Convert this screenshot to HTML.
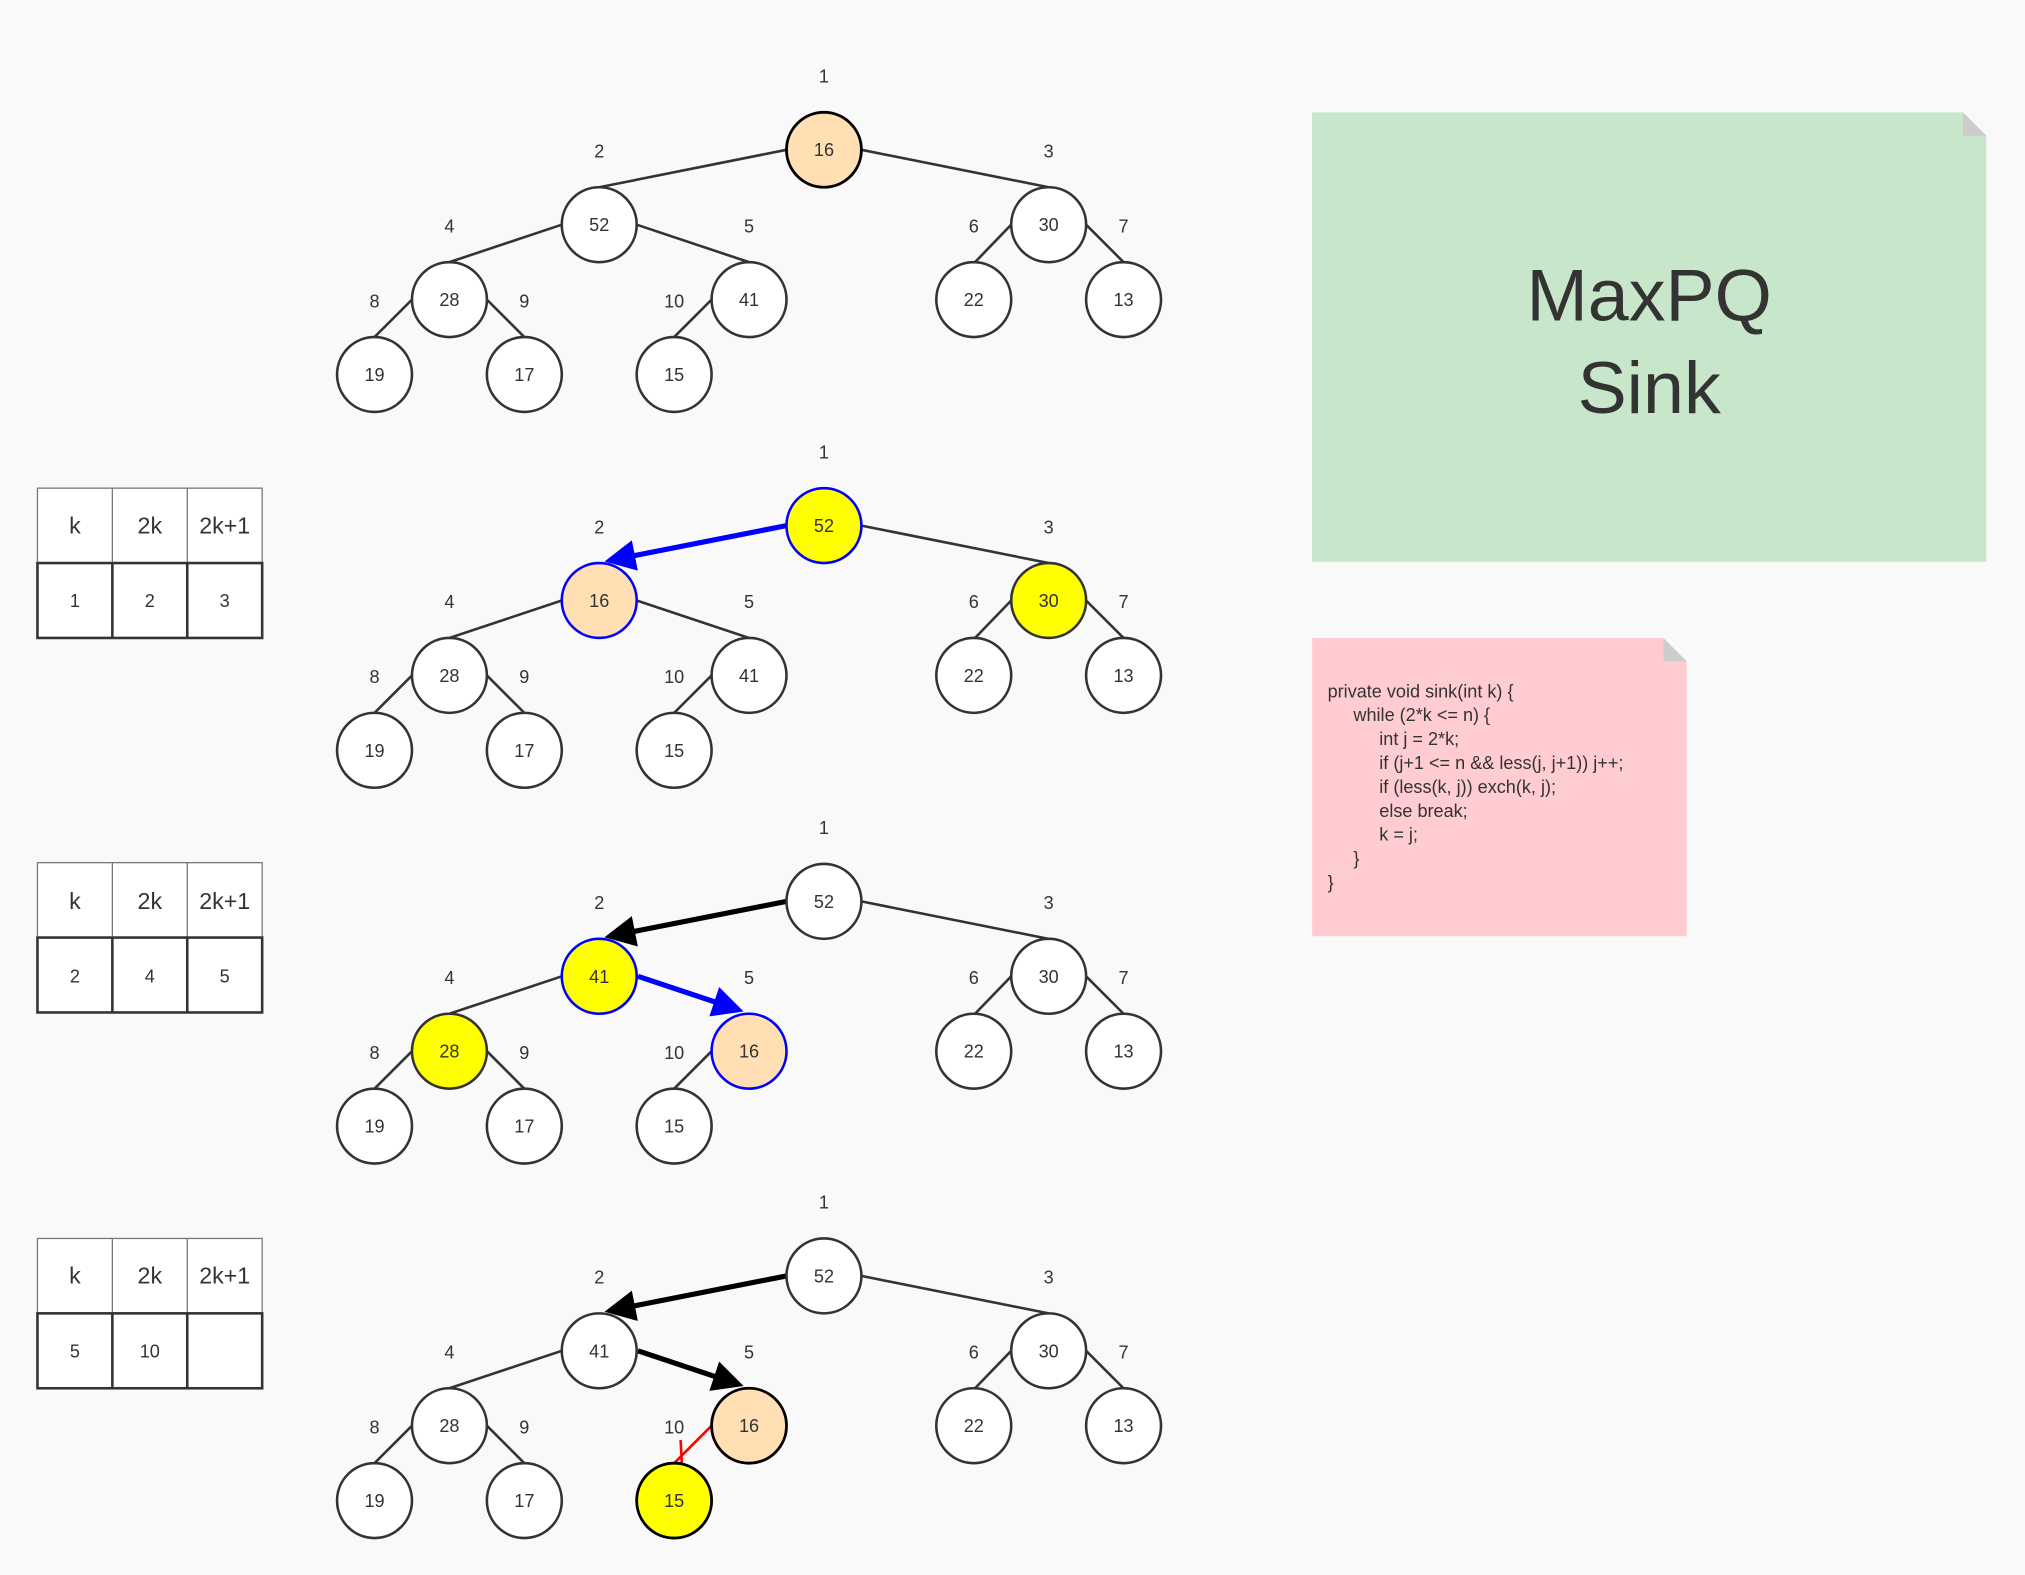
<!DOCTYPE html>
<html><head><meta charset="utf-8"><style>
html,body{margin:0;padding:0;background:#f9f9f9;}
svg{display:block;}
text{font-family:"Liberation Sans",sans-serif;fill:#333;}
.l{font-size:14px;text-anchor:middle;}
.n{font-size:14px;text-anchor:middle;}
.e{stroke:#333;stroke-width:2;fill:none;}
.c{fill:#fff;stroke:#333;stroke-width:2;}
.th{font-size:18px;text-anchor:middle;}
.td{font-size:14px;text-anchor:middle;}
</style></head><body>
<svg width="2025" height="1575" viewBox="0 0 1568 1219.6" preserveAspectRatio="none" xmlns="http://www.w3.org/2000/svg">
<rect x="0" y="0" width="1568" height="1220" fill="#f9f9f9"/>

<!-- Green note -->
<path d="M1016 87 H1520 L1538 105 V435 H1016 Z" fill="#c8e6c9"/>
<path d="M1520 87 L1538 105 H1520 Z" fill="#cccccc"/>
<text x="1277" y="248" style="font-size:57px;text-anchor:middle">MaxPQ</text>
<text x="1277" y="320" style="font-size:57px;text-anchor:middle">Sink</text>

<!-- Pink note -->
<path d="M1016 494 H1288 L1306 512 V725 H1016 Z" fill="#ffccd1"/>
<path d="M1288 494 L1306 512 H1288 Z" fill="#cccccc"/>
<g style="font-size:14px">
<text x="1028" y="540">private void sink(int k) {</text>
<text x="1048" y="558.5">while (2*k &lt;= n) {</text>
<text x="1068" y="577">int j = 2*k;</text>
<text x="1068" y="595.5">if (j+1 &lt;= n &amp;&amp; less(j, j+1)) j++;</text>
<text x="1068" y="614">if (less(k, j)) exch(k, j);</text>
<text x="1068" y="632.5">else break;</text>
<text x="1068" y="651">k = j;</text>
<text x="1048" y="669.5">}</text>
<text x="1028" y="688">}</text>
</g>

<defs>
<marker id="ab" markerWidth="6" markerHeight="6" refX="5" refY="3" orient="auto" markerUnits="strokeWidth"><path d="M0 0 L6 3 L0 6 Z" fill="#0000ff"/></marker>
<marker id="ak" markerWidth="6" markerHeight="6" refX="5" refY="3" orient="auto" markerUnits="strokeWidth"><path d="M0 0 L6 3 L0 6 Z" fill="#000"/></marker>
</defs>

<!-- Tables -->
<g>
<rect x="29" y="378" width="174" height="58" fill="#fff" stroke="#777" stroke-width="1"/>
<line x1="87" y1="378" x2="87" y2="436" stroke="#777"/><line x1="145" y1="378" x2="145" y2="436" stroke="#777"/>
<rect x="29" y="436" width="174" height="58" fill="#fff" stroke="#333" stroke-width="2"/>
<line x1="87" y1="436" x2="87" y2="494" stroke="#333" stroke-width="2"/><line x1="145" y1="436" x2="145" y2="494" stroke="#333" stroke-width="2"/>
<text class="th" x="58" y="413">k</text><text class="th" x="116" y="413">2k</text><text class="th" x="174" y="413">2k+1</text>
<text class="td" x="58" y="470">1</text><text class="td" x="116" y="470">2</text><text class="td" x="174" y="470">3</text>
</g>
<g>
<rect x="29" y="668" width="174" height="58" fill="#fff" stroke="#777" stroke-width="1"/>
<line x1="87" y1="668" x2="87" y2="726" stroke="#777"/><line x1="145" y1="668" x2="145" y2="726" stroke="#777"/>
<rect x="29" y="726" width="174" height="58" fill="#fff" stroke="#333" stroke-width="2"/>
<line x1="87" y1="726" x2="87" y2="784" stroke="#333" stroke-width="2"/><line x1="145" y1="726" x2="145" y2="784" stroke="#333" stroke-width="2"/>
<text class="th" x="58" y="704">k</text><text class="th" x="116" y="704">2k</text><text class="th" x="174" y="704">2k+1</text>
<text class="td" x="58" y="761">2</text><text class="td" x="116" y="761">4</text><text class="td" x="174" y="761">5</text>
</g>
<g>
<rect x="29" y="959" width="174" height="58" fill="#fff" stroke="#777" stroke-width="1"/>
<line x1="87" y1="959" x2="87" y2="1017" stroke="#777"/><line x1="145" y1="959" x2="145" y2="1017" stroke="#777"/>
<rect x="29" y="1017" width="174" height="58" fill="#fff" stroke="#333" stroke-width="2"/>
<line x1="87" y1="1017" x2="87" y2="1075" stroke="#333" stroke-width="2"/><line x1="145" y1="1017" x2="145" y2="1075" stroke="#333" stroke-width="2"/>
<text class="th" x="58" y="994">k</text><text class="th" x="116" y="994">2k</text><text class="th" x="174" y="994">2k+1</text>
<text class="td" x="58" y="1051">5</text><text class="td" x="116" y="1051">10</text>
</g>

<!-- Tree 1 (dy=0) -->
<g>
<path class="e" d="M609 116 L464 145 M667 116 L812 145 M435 174 L348 203 M493 174 L580 203 M783 174 L755 203 M841 174 L870 203 M319 232 L290 261 M377 232 L406 261 M551 232 L522 261"/>
<text class="l" x="638" y="64">1</text><text class="l" x="464" y="122">2</text><text class="l" x="812" y="122">3</text>
<text class="l" x="348" y="180">4</text><text class="l" x="580" y="180">5</text><text class="l" x="754" y="180">6</text><text class="l" x="870" y="180">7</text>
<text class="l" x="290" y="238">8</text><text class="l" x="406" y="238">9</text><text class="l" x="522" y="238">10</text>
<circle cx="638" cy="116" r="29" fill="#ffdfb3" stroke="#000" stroke-width="2.2"/>
<circle class="c" cx="464" cy="174" r="29"/><circle class="c" cx="812" cy="174" r="29"/>
<circle class="c" cx="348" cy="232" r="29"/><circle class="c" cx="580" cy="232" r="29"/><circle class="c" cx="754" cy="232" r="29"/><circle class="c" cx="870" cy="232" r="29"/>
<circle class="c" cx="290" cy="290" r="29"/><circle class="c" cx="406" cy="290" r="29"/><circle class="c" cx="522" cy="290" r="29"/>
<text class="n" x="638" y="121">16</text><text class="n" x="464" y="179">52</text><text class="n" x="812" y="179">30</text>
<text class="n" x="348" y="237">28</text><text class="n" x="580" y="237">41</text><text class="n" x="754" y="237">22</text><text class="n" x="870" y="237">13</text>
<text class="n" x="290" y="295">19</text><text class="n" x="406" y="295">17</text><text class="n" x="522" y="295">15</text>
</g>

<!-- Tree 2 (dy=291) -->
<g transform="translate(0,291)">
<path class="e" d="M667 116 L812 145 M435 174 L348 203 M493 174 L580 203 M783 174 L755 203 M841 174 L870 203 M319 232 L290 261 M377 232 L406 261 M551 232 L522 261"/>
<line x1="609" y1="116" x2="472" y2="143" stroke="#0000ff" stroke-width="4" marker-end="url(#ab)"/>
<text class="l" x="638" y="64">1</text><text class="l" x="464" y="122">2</text><text class="l" x="812" y="122">3</text>
<text class="l" x="348" y="180">4</text><text class="l" x="580" y="180">5</text><text class="l" x="754" y="180">6</text><text class="l" x="870" y="180">7</text>
<text class="l" x="290" y="238">8</text><text class="l" x="406" y="238">9</text><text class="l" x="522" y="238">10</text>
<circle cx="638" cy="116" r="29" fill="#ffff00" stroke="#0000ff" stroke-width="2"/>
<circle cx="464" cy="174" r="29" fill="#ffdfb3" stroke="#0000ff" stroke-width="2"/>
<circle cx="812" cy="174" r="29" fill="#ffff00" stroke="#333" stroke-width="2"/>
<circle class="c" cx="348" cy="232" r="29"/><circle class="c" cx="580" cy="232" r="29"/><circle class="c" cx="754" cy="232" r="29"/><circle class="c" cx="870" cy="232" r="29"/>
<circle class="c" cx="290" cy="290" r="29"/><circle class="c" cx="406" cy="290" r="29"/><circle class="c" cx="522" cy="290" r="29"/>
<text class="n" x="638" y="121">52</text><text class="n" x="464" y="179">16</text><text class="n" x="812" y="179">30</text>
<text class="n" x="348" y="237">28</text><text class="n" x="580" y="237">41</text><text class="n" x="754" y="237">22</text><text class="n" x="870" y="237">13</text>
<text class="n" x="290" y="295">19</text><text class="n" x="406" y="295">17</text><text class="n" x="522" y="295">15</text>
</g>

<!-- Tree 3 (dy=582) -->
<g transform="translate(0,582)">
<path class="e" d="M667 116 L812 145 M435 174 L348 203 M783 174 L755 203 M841 174 L870 203 M319 232 L290 261 M377 232 L406 261 M551 232 L522 261"/>
<line x1="609" y1="116" x2="472" y2="143" stroke="#000" stroke-width="4" marker-end="url(#ak)"/>
<line x1="494" y1="174" x2="572" y2="200" stroke="#0000ff" stroke-width="4" marker-end="url(#ab)"/>
<text class="l" x="638" y="64">1</text><text class="l" x="464" y="122">2</text><text class="l" x="812" y="122">3</text>
<text class="l" x="348" y="180">4</text><text class="l" x="580" y="180">5</text><text class="l" x="754" y="180">6</text><text class="l" x="870" y="180">7</text>
<text class="l" x="290" y="238">8</text><text class="l" x="406" y="238">9</text><text class="l" x="522" y="238">10</text>
<circle class="c" cx="638" cy="116" r="29"/>
<circle cx="464" cy="174" r="29" fill="#ffff00" stroke="#0000ff" stroke-width="2"/>
<circle class="c" cx="812" cy="174" r="29"/>
<circle cx="348" cy="232" r="29" fill="#ffff00" stroke="#333" stroke-width="2"/>
<circle cx="580" cy="232" r="29" fill="#ffdfb3" stroke="#0000ff" stroke-width="2"/>
<circle class="c" cx="754" cy="232" r="29"/><circle class="c" cx="870" cy="232" r="29"/>
<circle class="c" cx="290" cy="290" r="29"/><circle class="c" cx="406" cy="290" r="29"/><circle class="c" cx="522" cy="290" r="29"/>
<text class="n" x="638" y="121">52</text><text class="n" x="464" y="179">41</text><text class="n" x="812" y="179">30</text>
<text class="n" x="348" y="237">28</text><text class="n" x="580" y="237">16</text><text class="n" x="754" y="237">22</text><text class="n" x="870" y="237">13</text>
<text class="n" x="290" y="295">19</text><text class="n" x="406" y="295">17</text><text class="n" x="522" y="295">15</text>
</g>

<!-- Tree 4 (dy=872) -->
<g transform="translate(0,872)">
<path class="e" d="M667 116 L812 145 M435 174 L348 203 M783 174 L755 203 M841 174 L870 203 M319 232 L290 261 M377 232 L406 261"/>
<line x1="609" y1="116" x2="472" y2="143" stroke="#000" stroke-width="4" marker-end="url(#ak)"/>
<line x1="494" y1="174" x2="572" y2="200" stroke="#000" stroke-width="4" marker-end="url(#ak)"/>
<path d="M551 232 L522 261 M527 243 L528 262" stroke="#ff0000" stroke-width="2" fill="none"/>
<text class="l" x="638" y="64">1</text><text class="l" x="464" y="122">2</text><text class="l" x="812" y="122">3</text>
<text class="l" x="348" y="180">4</text><text class="l" x="580" y="180">5</text><text class="l" x="754" y="180">6</text><text class="l" x="870" y="180">7</text>
<text class="l" x="290" y="238">8</text><text class="l" x="406" y="238">9</text><text class="l" x="522" y="238">10</text>
<circle class="c" cx="638" cy="116" r="29"/>
<circle class="c" cx="464" cy="174" r="29"/>
<circle class="c" cx="812" cy="174" r="29"/>
<circle class="c" cx="348" cy="232" r="29"/>
<circle cx="580" cy="232" r="29" fill="#ffdfb3" stroke="#000" stroke-width="2.2"/>
<circle class="c" cx="754" cy="232" r="29"/><circle class="c" cx="870" cy="232" r="29"/>
<circle class="c" cx="290" cy="290" r="29"/><circle class="c" cx="406" cy="290" r="29"/>
<circle cx="522" cy="290" r="29" fill="#ffff00" stroke="#000" stroke-width="2.2"/>
<text class="n" x="638" y="121">52</text><text class="n" x="464" y="179">41</text><text class="n" x="812" y="179">30</text>
<text class="n" x="348" y="237">28</text><text class="n" x="580" y="237">16</text><text class="n" x="754" y="237">22</text><text class="n" x="870" y="237">13</text>
<text class="n" x="290" y="295">19</text><text class="n" x="406" y="295">17</text><text class="n" x="522" y="295">15</text>
</g>
</svg>
</body></html>
